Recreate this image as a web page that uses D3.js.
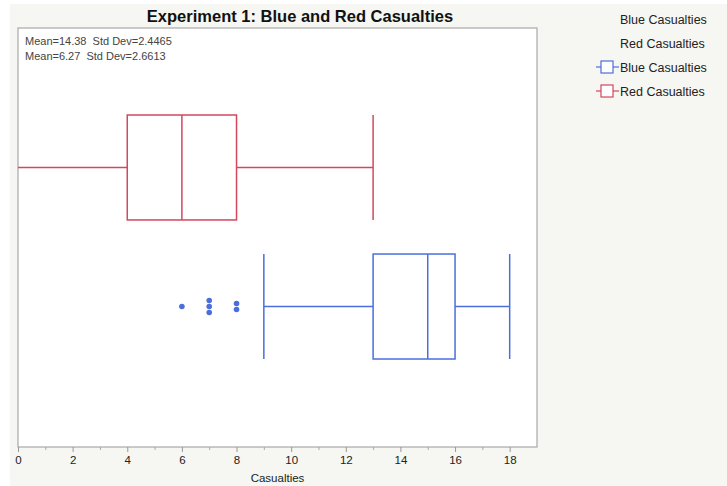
<!DOCTYPE html>
<html>
<head>
<meta charset="utf-8">
<script src="https://cdn.jsdelivr.net/npm/d3@7"></script>
<style>
  html, body { margin: 0; padding: 0; background: #ffffff; }
  svg { display: block; font-family: "Liberation Sans", Arial, sans-serif; }
</style>
</head>
<body>
<svg id="chart" width="727" height="486"></svg>
<script>
// Box plot summaries: [min whisker, Q1, median, Q3, max whisker]
const seriesNames = ["Blue Casualties", "Red Casualties"];
const blueSummary = [9, 13, 15, 16, 18];
const redSummary = [0, 4, 6, 8, 13];
const blueOutliers = [6, 7, 7, 7, 8, 8];
const redOutliers = [];
const statLines = ["Mean=14.38  Std Dev=2.4465", "Mean=6.27  Std Dev=2.6613"];
const xTicks = [0, 2, 4, 6, 8, 10, 12, 14, 16, 18];
const xMinorTicks = [1, 3, 5, 7, 9, 11, 13, 15, 17];
const colors = { "Blue Casualties": "#4a6fdc", "Red Casualties": "#d4475c" };

const svg = d3.select("#chart");
const W = 727, H = 486;
const plot = { left: 18, right: 537, top: 28, bottom: 447 };

// panel background
svg.append("rect").attr("x", 10).attr("y", 4).attr("width", W - 10).attr("height", H - 4)
  .attr("fill", "#f6f6f2");

const x = d3.scaleLinear().domain([0, 19]).range([plot.left, plot.right]);
// categorical band for the two boxes (top: Red, bottom: Blue)
const y = d3.scaleBand().domain(["Red Casualties", "Blue Casualties"])
  .range([115, 359]).paddingInner(0.245).paddingOuter(0);

// plot area
svg.append("rect").attr("x", plot.left).attr("y", plot.top)
  .attr("width", plot.right - plot.left).attr("height", plot.bottom - plot.top)
  .attr("fill", "#ffffff").attr("stroke", "#a8a8a8").attr("stroke-width", 1.2);

// title
svg.append("text").attr("x", 300).attr("y", 22).attr("text-anchor", "middle")
  .attr("font-size", 16.5).attr("font-weight", "bold").attr("fill", "#111")
  .text("Experiment 1: Blue and Red Casualties");

// summary statistics
statLines.forEach((s, i) => {
  svg.append("text").attr("x", 25).attr("y", 45 + i * 15)
    .style("white-space", "pre")
    .attr("font-size", 11).attr("fill", "#444").text(s);
});

// x axis
const axisG = svg.append("g").attr("transform", `translate(0,${plot.bottom})`);
axisG.call(d3.axisBottom(x).tickValues(xTicks).tickSize(5).tickPadding(4).tickFormat(d3.format("d")));
axisG.select(".domain").remove();
axisG.selectAll(".tick line").attr("stroke", "#999");
axisG.selectAll(".tick text").attr("font-size", 11.5).attr("fill", "#222")
  .attr("font-family", "Liberation Sans, Arial, sans-serif");
const minorG = svg.append("g").attr("transform", `translate(0,${plot.bottom})`);
minorG.call(d3.axisBottom(x).tickValues(xMinorTicks).tickSize(3).tickFormat(""));
minorG.select(".domain").remove();
minorG.selectAll(".tick line").attr("stroke", "#aaa");

svg.append("text").attr("x", x(9.5)).attr("y", 482).attr("text-anchor", "middle")
  .attr("font-size", 11.5).attr("fill", "#222").text("Casualties");

// boxes
const series = [
  { name: "Blue Casualties", s: blueSummary, out: blueOutliers },
  { name: "Red Casualties", s: redSummary, out: redOutliers }
];
series.forEach(d => {
  const c = colors[d.name];
  const top = y(d.name), h = y.bandwidth(), mid = top + h / 2;
  const g = svg.append("g").attr("stroke", c).attr("stroke-width", 1.5).attr("fill", "none");
  const [mn, q1, md, q3, mx] = d.s;
  g.append("line").attr("x1", x(mn)).attr("x2", x(q1)).attr("y1", mid).attr("y2", mid);
  g.append("line").attr("x1", x(q3)).attr("x2", x(mx)).attr("y1", mid).attr("y2", mid);
  g.append("rect").attr("x", x(q1)).attr("y", top).attr("width", x(q3) - x(q1)).attr("height", h);
  g.append("line").attr("x1", x(md)).attr("x2", x(md)).attr("y1", top).attr("y2", top + h);
  // whisker caps
  [mn, mx].forEach(v => {
    if (v > 0) g.append("line").attr("x1", x(v)).attr("x2", x(v)).attr("y1", top).attr("y2", top + h);
  });
  // outliers stacked vertically when values repeat
  const counts = d3.rollup(d.out, v => v.length, v => v);
  const seen = new Map();
  d.out.forEach(v => {
    const n = counts.get(v), k = seen.get(v) || 0;
    seen.set(v, k + 1);
    const off = (k - (n - 1) / 2) * 6;
    svg.append("circle").attr("cx", x(v)).attr("cy", mid + off).attr("r", 2.8).attr("fill", c);
  });
});

// legend
const legX = 620;
seriesNames.forEach((name, i) => {
  svg.append("text").attr("x", legX).attr("y", 24 + i * 24)
    .attr("font-size", 12.5).attr("fill", "#222").text(name);
});
seriesNames.forEach((name, i) => {
  const cy = 67 + i * 24, c = colors[name];
  const lg = svg.append("g").attr("stroke", c).attr("stroke-width", 1.2).attr("fill", "#fff");
  lg.append("line").attr("x1", 596).attr("x2", 619).attr("y1", cy).attr("y2", cy);
  lg.append("rect").attr("x", 601).attr("y", cy - 6).attr("width", 12).attr("height", 12);
  svg.append("text").attr("x", legX).attr("y", cy + 4.5)
    .attr("font-size", 12.5).attr("fill", "#222").text(name);
});
</script>
</body>
</html>
